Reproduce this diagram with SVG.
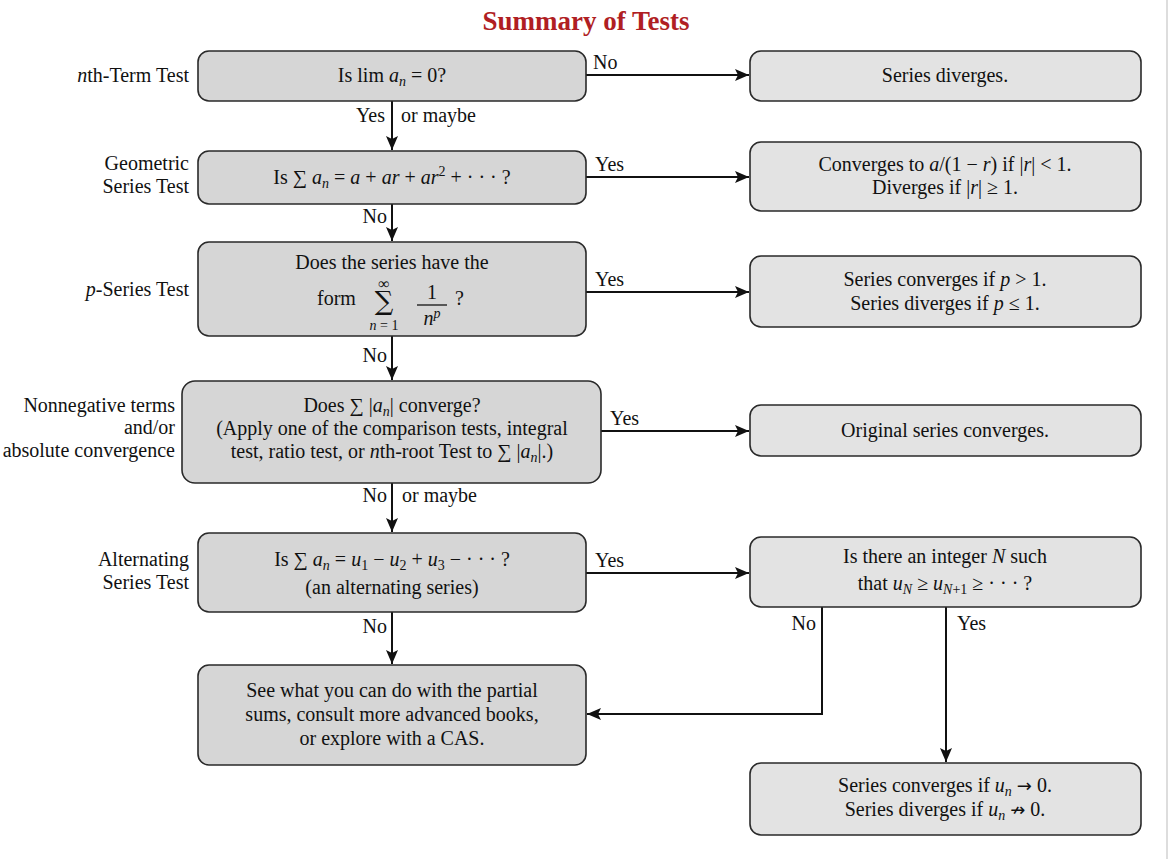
<svg xmlns="http://www.w3.org/2000/svg" width="1173" height="859" viewBox="0 0 1173 859">
<defs>
<style>
.t{font-family:"Liberation Serif","Times New Roman",serif;font-size:20px;fill:#111}
.m{text-anchor:middle}
.e{text-anchor:end}
.i{font-style:italic}
.ar{font-family:"DejaVu Sans",sans-serif;font-size:18px}
.box{stroke:#2a2a2a;stroke-width:1.6}
.L{fill:#d6d6d6}
.R{fill:#e3e3e3}
.c{fill:none;stroke:#111;stroke-width:2}
.title{font-family:"Liberation Serif","Times New Roman",serif;font-size:27px;font-weight:bold;fill:#b01e23;text-anchor:middle}
</style>
<marker id="ah" markerUnits="userSpaceOnUse" markerWidth="15" markerHeight="12" refX="14" refY="6" orient="auto">
<path d="M0,0 L14,6 L0,12 L3,6 z" fill="#111"/>
</marker>
</defs>
<rect width="1173" height="859" fill="#ffffff"/>
<line x1="1167" y1="0" x2="1167" y2="859" stroke="#bbbbbb" stroke-width="1"/>
<text class="title" x="586" y="30">Summary of Tests</text>

<g id="labels">
<text class="t e" x="189" y="82"><tspan class="i">n</tspan>th-Term Test</text>
<text class="t e" x="189" y="170">Geometric</text>
<text class="t e" x="189" y="193">Series Test</text>
<text class="t e" x="189" y="296"><tspan class="i">p</tspan>-Series Test</text>
<text class="t e" x="175" y="412">Nonnegative terms</text>
<text class="t e" x="175" y="434">and/or</text>
<text class="t e" x="175" y="457">absolute convergence</text>
<text class="t e" x="189" y="566">Alternating</text>
<text class="t e" x="189" y="589">Series Test</text>
</g>

<g id="connectors">
<line class="c" x1="586" y1="75" x2="749" y2="75" marker-end="url(#ah)"/>
<line class="c" x1="392" y1="101" x2="392" y2="150" marker-end="url(#ah)"/>
<line class="c" x1="586" y1="177" x2="749" y2="177" marker-end="url(#ah)"/>
<line class="c" x1="392" y1="204" x2="392" y2="241" marker-end="url(#ah)"/>
<line class="c" x1="586" y1="292" x2="749" y2="292" marker-end="url(#ah)"/>
<line class="c" x1="392" y1="336" x2="392" y2="380" marker-end="url(#ah)"/>
<line class="c" x1="601" y1="431" x2="749" y2="431" marker-end="url(#ah)"/>
<line class="c" x1="392" y1="483" x2="392" y2="532" marker-end="url(#ah)"/>
<line class="c" x1="586" y1="573" x2="749" y2="573" marker-end="url(#ah)"/>
<line class="c" x1="392" y1="612" x2="392" y2="664" marker-end="url(#ah)"/>
<polyline class="c" points="822,607 822,714 587,714" marker-end="url(#ah)"/>
<line class="c" x1="946" y1="607" x2="946" y2="762" marker-end="url(#ah)"/>
<text class="t" x="593" y="69">No</text>
<text class="t e" x="385" y="122">Yes</text>
<text class="t" x="401" y="122">or maybe</text>
<text class="t" x="595" y="171">Yes</text>
<text class="t e" x="387" y="223">No</text>
<text class="t" x="595" y="286">Yes</text>
<text class="t e" x="387" y="362">No</text>
<text class="t" x="610" y="425">Yes</text>
<text class="t e" x="387" y="502">No</text>
<text class="t" x="402" y="502">or maybe</text>
<text class="t" x="595" y="567">Yes</text>
<text class="t e" x="387" y="633">No</text>
<text class="t e" x="816" y="630">No</text>
<text class="t" x="957" y="630">Yes</text>
</g>

<g id="nth-term">
<rect class="box L" x="198" y="51" width="388" height="50" rx="11"/>
<text class="t m" x="392" y="82">Is lim <tspan class="i">a</tspan><tspan class="i" font-size="14" dy="4">n</tspan><tspan dy="-4"> = 0?</tspan></text>
</g>

<g id="diverges">
<rect class="box R" x="750" y="51" width="391" height="50" rx="11"/>
<text class="t m" x="945" y="82">Series diverges.</text>
</g>

<g id="geometric">
<rect class="box L" x="198" y="151" width="388" height="53" rx="11"/>
<text class="t m" x="392" y="184">Is ∑ <tspan class="i">a</tspan><tspan class="i" font-size="14" dy="4">n</tspan><tspan dy="-4"> = </tspan><tspan class="i">a</tspan> + <tspan class="i">ar</tspan> + <tspan class="i">ar</tspan><tspan font-size="14" dy="-8">2</tspan><tspan dy="8"> + · · · ?</tspan></text>
</g>

<g id="geometric-result">
<rect class="box R" x="750" y="142" width="391" height="69" rx="11"/>
<text class="t m" x="945" y="171">Converges to <tspan class="i">a</tspan>/(1 − <tspan class="i">r</tspan>) if |<tspan class="i">r</tspan>| &lt; 1.</text>
<text class="t m" x="945" y="194">Diverges if |<tspan class="i">r</tspan>| ≥ 1.</text>
</g>

<g id="p-series">
<rect class="box L" x="198" y="242" width="388" height="94" rx="11"/>
<text class="t m" x="392" y="269">Does the series have the</text>
<text class="t" x="317" y="305">form</text>
<text class="t m"><tspan x="384" y="289" font-size="16">∞</tspan><tspan x="384" y="310" font-family="DejaVu Serif, serif" font-size="26">∑</tspan><tspan x="384" y="330" font-size="14"><tspan class="i">n</tspan> = 1</tspan></text>
<text class="t m" x="432" y="299">1</text>
<line x1="417" y1="305" x2="447" y2="305" stroke="#111" stroke-width="1.3"/>
<text class="t m" x="432" y="325"><tspan class="i">n</tspan><tspan class="i" font-size="14" dy="-7">p</tspan></text>
<text class="t" x="455" y="305">?</text>
</g>

<g id="p-result">
<rect class="box R" x="750" y="256" width="391" height="71" rx="11"/>
<text class="t m" x="945" y="286">Series converges if <tspan class="i">p</tspan> &gt; 1.</text>
<text class="t m" x="945" y="310">Series diverges if <tspan class="i">p</tspan> ≤ 1.</text>
</g>

<g id="absolute">
<rect class="box L" x="182" y="381" width="419" height="102" rx="13"/>
<text class="t m" x="392" y="412">Does ∑ |<tspan class="i">a</tspan><tspan class="i" font-size="14" dy="4">n</tspan><tspan dy="-4">| converge?</tspan></text>
<text class="t m" x="392" y="435">(Apply one of the comparison tests, integral</text>
<text class="t m" x="392" y="458">test, ratio test, or <tspan class="i">n</tspan>th-root Test to ∑ |<tspan class="i">a</tspan><tspan class="i" font-size="14" dy="4">n</tspan><tspan dy="-4">|.)</tspan></text>
</g>

<g id="absolute-result">
<rect class="box R" x="750" y="405" width="391" height="51" rx="11"/>
<text class="t m" x="945" y="437">Original series converges.</text>
</g>

<g id="alternating">
<rect class="box L" x="198" y="533" width="388" height="79" rx="11"/>
<text class="t m" x="392" y="566">Is ∑ <tspan class="i">a</tspan><tspan class="i" font-size="14" dy="4">n</tspan><tspan dy="-4"> = </tspan><tspan class="i">u</tspan><tspan font-size="14" dy="4">1</tspan><tspan dy="-4"> − </tspan><tspan class="i">u</tspan><tspan font-size="14" dy="4">2</tspan><tspan dy="-4"> + </tspan><tspan class="i">u</tspan><tspan font-size="14" dy="4">3</tspan><tspan dy="-4"> − · · · ?</tspan></text>
<text class="t m" x="392" y="594">(an alternating series)</text>
</g>

<g id="decreasing">
<rect class="box R" x="750" y="537" width="391" height="70" rx="11"/>
<text class="t m" x="945" y="563">Is there an integer <tspan class="i">N</tspan> such</text>
<text class="t m" x="945" y="590">that <tspan class="i">u</tspan><tspan class="i" font-size="14" dy="4">N</tspan><tspan dy="-4"> ≥ </tspan><tspan class="i">u</tspan><tspan class="i" font-size="14" dy="4">N</tspan><tspan font-size="14">+1</tspan><tspan dy="-4"> ≥ · · · ?</tspan></text>
</g>

<g id="partial-sums">
<rect class="box L" x="198" y="665" width="388" height="100" rx="11"/>
<text class="t m" x="392" y="697">See what you can do with the partial</text>
<text class="t m" x="392" y="721">sums, consult more advanced books,</text>
<text class="t m" x="392" y="745">or explore with a CAS.</text>
</g>

<g id="alternating-result">
<rect class="box R" x="750" y="763" width="391" height="72" rx="11"/>
<text class="t m" x="945" y="792">Series converges if <tspan class="i">u</tspan><tspan class="i" font-size="14" dy="4">n</tspan><tspan dy="-4"> </tspan><tspan class="ar">→</tspan> 0.</text>
<text class="t m" x="945" y="816">Series diverges if <tspan class="i">u</tspan><tspan class="i" font-size="14" dy="4">n</tspan><tspan dy="-4"> </tspan><tspan class="ar">↛</tspan> 0.</text>
</g>
</svg>
